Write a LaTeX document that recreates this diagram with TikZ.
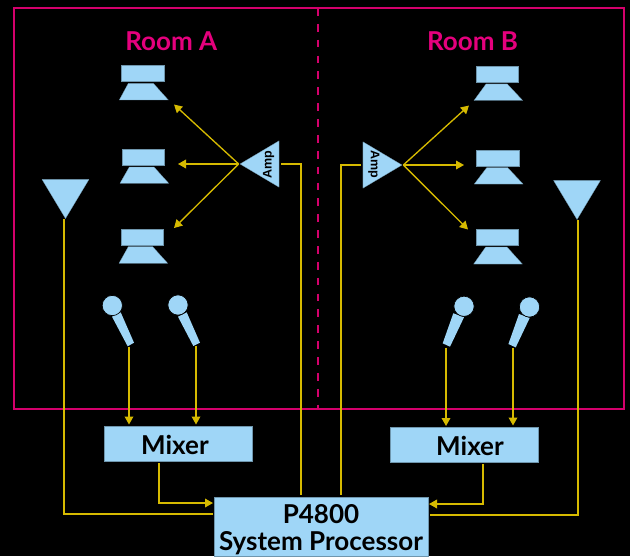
\documentclass[tikz,border=0pt]{standalone}
\usepackage{fontspec}
\setmainfont{Lato}
\newfontfamily\ampfont{Liberation Sans}
\usetikzlibrary{shapes.geometric,arrows.meta,positioning,calc}
\definecolor{boxblue}{HTML}{9FD6F7}
\definecolor{wireyellow}{HTML}{D6BA00}
\definecolor{roompink}{HTML}{D4006C}
\definecolor{titlepink}{HTML}{E5007D}
\tikzstyle{wire} = [wireyellow,line width=1pt]
\tikzstyle{arrow} = [wire,-{Triangle[length=6pt,width=6.5pt]}]
\tikzstyle{room} = [roompink,line width=1.2pt]

\begin{document}
\begin{tikzpicture}[x=0.75pt,y=-0.75pt,
    blockbox/.style={rectangle,fill=boxblue,draw=boxblue!70!black,line width=0.2pt,inner sep=0pt,outer sep=0pt,font=\bfseries\fontsize{19.5}{20}\selectfont},
    cabinet/.style={blockbox,minimum width=31.9pt,minimum height=12pt},
    horn/.style={fill=boxblue,draw=boxblue!70!black,line width=0.2pt},
    wedge/.style={isosceles triangle,isosceles triangle stretches=true,fill=boxblue,draw=boxblue!70!black,line width=0.2pt,inner sep=0pt,outer sep=0pt,minimum width=34.8pt,minimum height=29.3pt,anchor=apex},
    mixbox/.style={blockbox,minimum width=111.4pt,minimum height=26.3pt},
    roomlabel/.style={titlepink,font=\bfseries\fontsize{19.5}{20}\selectfont},
    amplabel/.style={font=\ampfont\bfseries\fontsize{9.4}{10}\selectfont,inner sep=0pt},
    michead/.style={circle,fill=boxblue,draw=black,line width=0.5pt,inner sep=0pt,minimum size=15.2pt},
    micbody/.style={fill=boxblue},]
    \fill[black] (0,0) rectangle (630,556);
    \useasboundingbox (0,0) rectangle (630,556);

    % rooms
    \draw[room] (318,8) -- (14,8) -- (14,409) -- (318,409);
    \draw[room] (318,8) -- (624,8) -- (624,409) -- (318,409);
    \draw[room,dash pattern=on 5.8pt off 6.1pt] (318,8) -- (318,409);
    \node[roomlabel] (roomA) at (171.3,41) {Room A};
    \node[roomlabel] (roomB) at (472.5,41) {Room B};

    % speakers, room A
    \node[cabinet] (spkA1) at (142.7,73.5) {};
    \draw[horn] (119.3,100) -- (128.3,83.3) -- (153.3,83.3) -- (168.3,100) -- cycle;
    \node[cabinet] (spkA2) at (143.2,157.5) {};
    \draw[horn] (120,183.3) -- (129.3,167) -- (154,167) -- (168.7,183.3) -- cycle;
    \node[cabinet] (spkA3) at (142.2,237) {};
    \draw[horn] (119,263.3) -- (128.3,246.7) -- (152.7,246.7) -- (167.7,263.3) -- cycle;

    % speakers, room B
    \node[cabinet] (spkB1) at (497.3,74) {};
    \draw[horn] (474,100.5) -- (486,84) -- (507.3,84) -- (522.7,100.5) -- cycle;
    \node[cabinet] (spkB2) at (497.6,158) {};
    \draw[horn] (474.3,184) -- (486.7,167.7) -- (507.7,167.7) -- (523,184) -- cycle;
    \node[cabinet] (spkB3) at (497,237.5) {};
    \draw[horn] (473.7,264) -- (485.7,247) -- (507,247) -- (522.3,264) -- cycle;

    % amps
    \node[wedge,shape border rotate=180] (ampA) at (240,164) {\phantom{x}};
    \node[wedge] (ampB) at (402,165) {\phantom{x}};
    \node[amplabel,rotate=90] (ampAtxt) at (268.7,164.5) {Amp};
    \node[amplabel,rotate=-90] (ampBtxt) at (373.8,164) {Amp};

    % wall speakers
    \node[wedge,shape border rotate=-90,minimum width=35.2pt] (wallA) at (65.5,218.5) {\phantom{x}};
    \node[wedge,shape border rotate=-90,minimum width=35.2pt] (wallB) at (577,219.5) {\phantom{x}};

    % mics
    \fill[micbody] (112,316.7) -- (120.7,312.3) -- (134,342.7) -- (127.7,346.3) -- cycle;
    \fill[micbody] (178,316.7) -- (186.7,312.3) -- (200,342.7) -- (193.3,346) -- cycle;
    \fill[micbody] (453.3,313.3) -- (464,317.3) -- (450,346.7) -- (442.7,343.3) -- cycle;
    \fill[micbody] (519,314) -- (529.7,318) -- (515.7,347.4) -- (508.4,344) -- cycle;
    \node[michead] (micA1) at (112.3,305.5) {};
    \node[michead] (micA2) at (178,305) {};
    \node[michead] (micB1) at (464,306.3) {};
    \node[michead] (micB2) at (529.5,307) {};

    % mixers and processor
    \node[mixbox] (mixA) at (178.2,443.5) {\rule{0pt}{16.5pt}Mixer\kern4.8pt};
    \node[mixbox] (mixB) at (464,444.7) {\rule{0pt}{16.5pt}\hspace{9pt}Mixer};
    \node[blockbox,minimum width=160.5pt,minimum height=44.3pt,align=center] (proc) at (321,526.5) {\rule{0pt}{19pt}P4800\\System Processor};

    % free ends
    \coordinate (tipA1) at (174,104.5);
    \coordinate (tipA2) at (178,164);
    \coordinate (tipA3) at (174,228);
    \coordinate (tipB1) at (469,105.5);
    \coordinate (tipB2) at (464,165);
    \coordinate (tipB3) at (468,229.5);
    \coordinate (ampAout) at (281,164);
    \coordinate (ampBout) at (361,165);
    \coordinate (procAin) at (301,495);
    \coordinate (procBin) at (341,495);
    \coordinate (micAout1) at (129,347);
    \coordinate (micAout2) at (196,346);
    \coordinate (micBout1) at (446,347.5);
    \coordinate (micBout2) at (513,348);
    \coordinate (mixAin1) at (129,424.5);
    \coordinate (mixAin2) at (196,424.5);
    \coordinate (mixBin1) at (446,426);
    \coordinate (mixBin2) at (513,425.5);
    \coordinate (mixAout) at (159,463);
    \coordinate (mixBout) at (483,464);
    \coordinate (procAmix) at (213,503);
    \coordinate (procBmix) at (429,504);
    \coordinate (procAwall) at (212.5,514);
    \coordinate (procBwall) at (430,515);
    \coordinate (wallAout) at (64,219);
    \coordinate (wallBout) at (578,220);

    % amp -> speakers
    \draw[arrow] ([xshift=-1pt]ampA.apex) -- (tipA1);
    \draw[arrow] ([xshift=-1pt]ampA.apex) -- (tipA2);
    \draw[arrow] ([xshift=-1pt]ampA.apex) -- (tipA3);
    \draw[arrow] ([xshift=1pt]ampB.apex) -- (tipB1);
    \draw[arrow] ([xshift=1pt]ampB.apex) -- (tipB2);
    \draw[arrow] ([xshift=1pt]ampB.apex) -- (tipB3);

    % processor -> amp
    \draw[wire] (ampAout) -| (procAin);
    \draw[wire] (ampBout) -| (procBin);

    % wall speaker -> processor
    \draw[wire] (wallAout) |- (procAwall);
    \draw[wire] (wallBout) |- (procBwall);

    % mic -> mixer
    \draw[arrow] (micAout1) -- (mixAin1);
    \draw[arrow] (micAout2) -- (mixAin2);
    \draw[arrow] (micBout1) -- (mixBin1);
    \draw[arrow] (micBout2) -- (mixBin2);

    % mixer -> processor
    \draw[arrow] (mixAout) |- (procAmix);
    \draw[arrow] (mixBout) |- (procBmix);
\end{tikzpicture}
\end{document}
